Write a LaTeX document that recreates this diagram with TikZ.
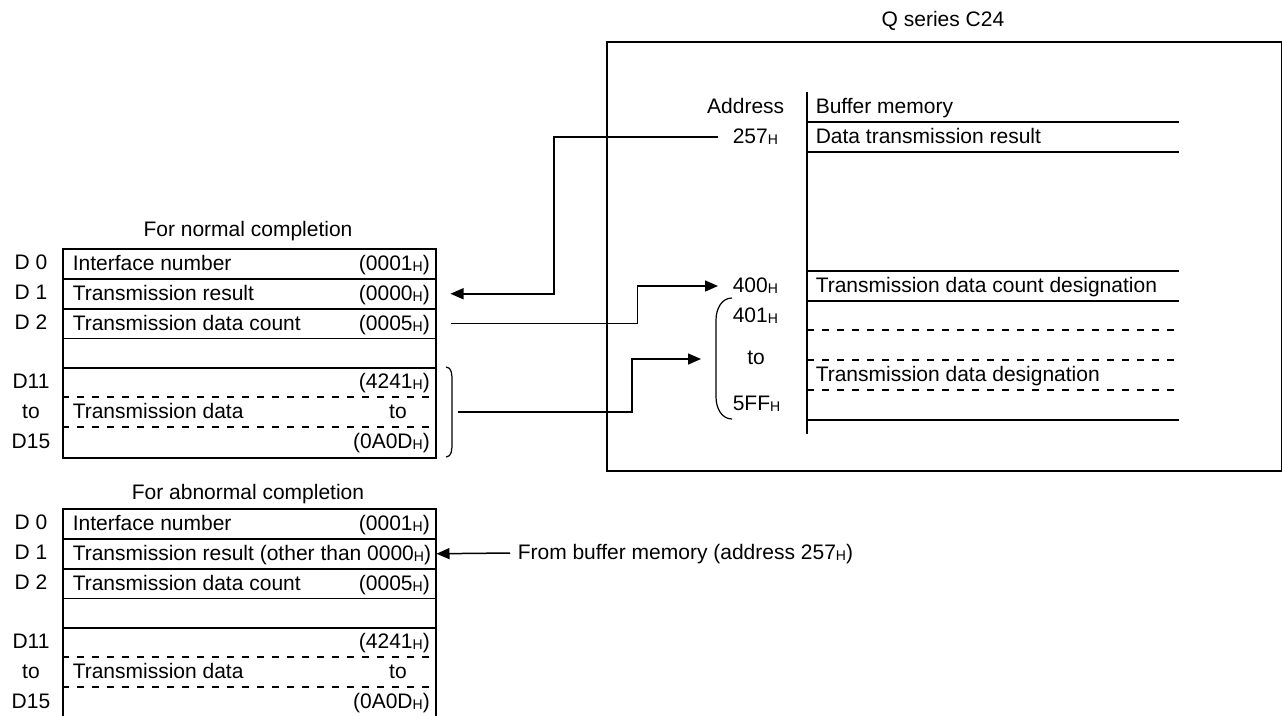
\documentclass[tikz,border=0pt]{standalone}
\usepackage{fontspec}
\setmainfont{Liberation Sans}
\usetikzlibrary{arrows.meta,positioning,calc}

\newcommand{\hx}{\raisebox{-1pt}{\fontsize{14}{14}\selectfont H}}

\begin{document}
\begin{tikzpicture}[x=1pt,y=-1pt,line width=1.5pt,
  txt/.style={font=\fontsize{21}{25}\selectfont,inner sep=0pt,
              text height=16pt,text depth=3pt},
  lbl/.style={txt,anchor=west},
  val/.style={txt,anchor=east},
  addr/.style={txt,inner xsep=14pt,anchor=west},
  row/.style={draw,minimum width=373pt,minimum height=#1,
              anchor=north west,inner sep=0pt},
  row/.default=30pt,
  sep/.style={line width=1.2pt,dash pattern=on 7pt off 8pt},
  conn/.style={-{Triangle[length=13pt,width=11pt]},line width=1.5pt}]

    \useasboundingbox (0,0) rectangle (1282,715);

    % ── tables in the CPU ─────────────────────────────────
    \node[txt] (ntitle) at (248,230){For normal completion};
    \node[txt] (atitle) at (248,493){For abnormal completion};

    \foreach \tb/\oy in {n/0,a/260}{
      \node[row] (\tb0) at (62,248+\oy){};
      \node[row] (\tb1) at (62,278+\oy){};
      \node[row=29.5pt] (\tb2) at (62,308+\oy){};
      \node[row=29.5pt] (\tb3) at (62,337.5+\oy){};
      \node[row=90pt] (\tb4) at (62,367+\oy){};
      \draw[sep] ($(\tb4.north west)+(0,30)$) -- ($(\tb4.north east)+(0,30)$);
      \draw[sep] ($(\tb4.north west)+(0,60)$) -- ($(\tb4.north east)+(0,60)$);
      \node[lbl] (\tb0l) at ([xshift=10pt]\tb0.west){Interface number};
      \node[val] (\tb0v) at ([xshift=-6pt]\tb0.east){(0001\hx)};
      \node[lbl] (\tb2l) at ([xshift=10pt]\tb2.west){Transmission data count};
      \node[val] (\tb2v) at ([xshift=-6pt]\tb2.east){(0005\hx)};
      \node[lbl] (\tb4l) at ($(\tb4.north west)+(10,45)$){Transmission data};
      \node[val] (\tb4a) at ($(\tb4.north east)+(-6,15)$){(4241\hx)};
      \node[val] (\tb4b) at ($(\tb4.north east)+(-29,45)$){to};
      \node[val] (\tb4c) at ($(\tb4.north east)+(-6,75)$){(0A0D\hx)};
      % register numbers
      \foreach \rg/\ry [count=\k] in {D 0/263,D 1/293,D 2/322.5,D11/382,to/412,D15/442}
        \node[txt] (\tb r\k) at (31,\ry+\oy){\rg};
    }
    \node[lbl] (n1l) at ([xshift=10pt]n1.west){Transmission result};
    \node[val] (n1v) at ([xshift=-6pt]n1.east){(0000\hx)};
    \node[lbl] (a1l) at ([xshift=10pt]a1.west){Transmission result (other than 0000\hx)};

    % bracket round D11 to D15
    \draw[line width=1.2pt] (446,367) to[out=0,in=90] (452,381) -- (452,443)
      to[out=-90,in=0] (446,457);
    \coordinate (brk) at (458,412);

    % ── Q series C24 ──────────────────────────────────────
    \node[draw,minimum width=675pt,minimum height=429pt,anchor=north west,
          inner sep=0pt] (c24) at (606,41){};
    \node[txt] (c24t) at (943,20){Q series C24};

    % buffer memory
    \draw (807,92) -- (807,434);
    \foreach \yy in {122,152,271,301,420}{\draw (807,\yy) -- (1179,\yy);}
    \foreach \yy in {330,360,390}{\draw[sep] (807,\yy) -- (1179,\yy);}
    \node[lbl] (bm0) at (815,107){Buffer memory};
    \node[lbl] (bm1) at (815,137){Data transmission result};
    \node[lbl] (bm2) at (815,286){Transmission data count designation};
    \node[lbl] (bm3) at (815,375){Transmission data designation};

    % addresses
    \node[val] (adr) at (785,107){Address};
    \node[addr] (ad257) at (718,137){257\hx};
    \node[addr] (ad400) at (718,286){400\hx};
    \node[addr] (ad401) at (718,316){401\hx};
    \node[txt] (adto) at (756,358){to};
    \node[addr] (ad5ff) at (718,404){5FF\hx};
    \draw[line width=1.2pt] (732,298) to[out=180,in=90] (716,320) -- (716,397)
      to[out=-90,in=180] (732,419);
    \coordinate (pin) at (701,359);

    % connectors
    \draw[conn] (ad257.west) -- ++(-164,0) |- ([xshift=14pt]n1.east);
    \draw[conn] ([xshift=14pt]n2.east) -- ++(187,0) |- (ad400.west);
    \draw[conn] (brk) -- ++(174,0) |- (pin);

    \node[lbl] (from) at (517,553){From buffer memory (address 257\hx)};
    \draw[conn] ([xshift=-7pt]from.west) -- (a1.east);

  \end{tikzpicture}
\end{document}
